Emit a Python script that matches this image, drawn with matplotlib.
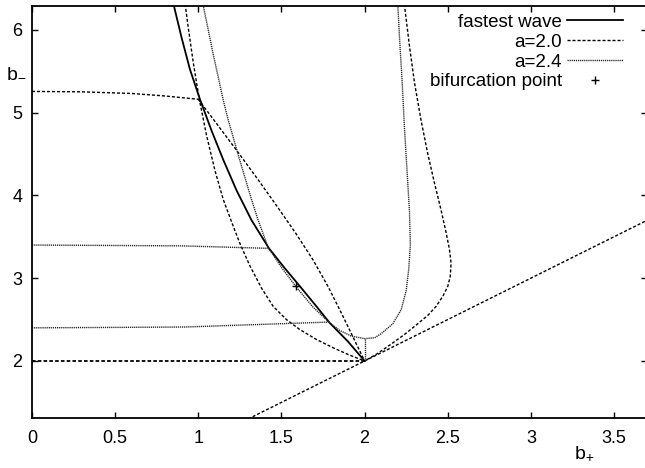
import numpy as np
import matplotlib
matplotlib.use('Agg')
import matplotlib.pyplot as plt

plt.rcParams['font.family'] = ['Liberation Sans', 'DejaVu Sans']
plt.rcParams['mathtext.default'] = 'regular'

# fastest wave (solid)
fastest_x = [0.84, 0.90, 0.95, 1.01, 1.08, 1.15, 1.23, 1.32, 1.425, 1.52, 1.62, 1.71, 1.79, 1.90, 2.0]
fastest_y = [6.40, 5.90, 5.52, 5.16, 4.78, 4.43, 4.06, 3.70, 3.36, 3.12, 2.88, 2.66, 2.46, 2.235, 2.0]

# a=2.0 curves
a20_horiz_x = [0.0, 0.3, 0.6, 0.8, 1.0]
a20_horiz_y = [5.255, 5.25, 5.23, 5.20, 5.16]
a20_lens_x = [1.0, 1.12, 1.25, 1.37, 1.49, 1.59, 1.69, 1.78, 1.86, 1.93, 2.0]
a20_lens_y = [5.16, 4.84, 4.49, 4.16, 3.82, 3.53, 3.22, 2.90, 2.58, 2.29, 2.0]
a20_left_x = [0.915, 0.94, 0.97, 1.006, 1.05, 1.10, 1.15, 1.20, 1.25, 1.31, 1.38, 1.45, 1.53, 1.61, 1.71, 1.81, 1.91, 2.0]
a20_left_y = [6.40, 6.02, 5.60, 5.16, 4.72, 4.30, 3.95, 3.68, 3.42, 3.15, 2.88, 2.66, 2.50, 2.38, 2.26, 2.16, 2.07, 2.0]
a20_right_x = [2.23, 2.24, 2.27, 2.30, 2.34, 2.38, 2.42, 2.46, 2.49, 2.51, 2.52, 2.515, 2.50,
               2.47, 2.43, 2.38, 2.32, 2.24, 2.15, 2.07, 2.0]
a20_right_y = [6.40, 6.29, 5.80, 5.36, 4.90, 4.50, 4.15, 3.82, 3.55, 3.35, 3.18, 3.02, 2.90,
               2.78, 2.66, 2.55, 2.45, 2.32, 2.19, 2.08, 2.0]
base_x = [0.0, 2.0]
base_y = [2.0, 2.0]
diag_x = [1.3, 3.7]
diag_y = [1.3, 3.7]

# a=2.4 curves
a24_curve_x = [1.02, 1.03, 1.09, 1.15, 1.18, 1.25, 1.32, 1.36, 1.42, 1.50, 1.59, 1.69, 1.79,
               1.85, 1.92, 2.0, 2.06, 2.10, 2.17, 2.22, 2.25, 2.265, 2.275, 2.27, 2.255,
               2.24, 2.225, 2.21, 2.20, 2.195]
a24_curve_y = [6.40, 6.29, 5.70, 5.15, 4.91, 4.42, 3.95, 3.70, 3.37, 3.13, 2.89, 2.65, 2.46,
               2.37, 2.30, 2.27, 2.28, 2.33, 2.45, 2.62, 2.85, 3.10, 3.40, 3.80, 4.30,
               4.80, 5.40, 5.90, 6.29, 6.40]
a24_h1_x = [0.0, 0.9, 1.42]
a24_h1_y = [3.40, 3.39, 3.36]
a24_h2_x = [0.0, 0.92, 1.79]
a24_h2_y = [2.40, 2.41, 2.47]
a24_vert_x = [2.0, 2.0]
a24_vert_y = [2.27, 2.0]

bif_x = [1.59]
bif_y = [2.90]

xticks = [0, 0.5, 1, 1.5, 2, 2.5, 3, 3.5]
xticklabels = ['0', '0.5', '1', '1.5', '2', '2.5', '3', '3.5']
yticks = [2, 3, 4, 5, 6]

fig = plt.figure(figsize=(6.45, 4.68), dpi=100)
ax = fig.add_axes([0.0496, 0.1075, 0.954, 0.8803])

d20 = dict(color='black', lw=1.0, dashes=(2.2, 1.4))
d24 = dict(color='#262626', lw=1.0, dashes=(0.9, 0.6))

ax.plot(fastest_x, fastest_y, color='black', lw=1.3, label='fastest wave')
ax.plot(a20_horiz_x, a20_horiz_y, label='a=2.0', **d20)
ax.plot(a20_lens_x, a20_lens_y, **d20)
ax.plot(a20_left_x, a20_left_y, **d20)
ax.plot(a20_right_x, a20_right_y, **d20)
ax.plot(base_x, base_y, color='black', lw=1.3, dashes=(2.0, 1.2))
ax.plot(diag_x, diag_y, **d20)
ax.plot(a24_h1_x, a24_h1_y, label='a=2.4', **d24)
ax.plot(a24_h2_x, a24_h2_y, **d24)
ax.plot(a24_curve_x, a24_curve_y, **d24)
ax.plot(a24_vert_x, a24_vert_y, **d24)
ax.plot(bif_x, bif_y, '+', color='black', ms=6, mew=1.0, label='bifurcation point')

ax.set_xlim(0, 3.7)
ax.set_ylim(1.315, 6.29)
ax.set_xticks(xticks)
ax.set_xticklabels(xticklabels)
ax.set_yticks(yticks)
ax.tick_params(direction='in', top=True, right=True, length=4.5, width=1.0, labelsize=13)
ax.tick_params(axis='x', pad=9)
ax.tick_params(axis='y', pad=7)
for s in ax.spines.values():
    s.set_linewidth(1.3)

ax.text(-0.026, 0.839, '$b_{-}$', transform=ax.transAxes, fontsize=14, ha='center', va='center')
ax.text(0.897, -0.0985, '$b_{+}$', transform=ax.transAxes, fontsize=14, ha='center', va='baseline')

ax.legend(loc='upper right', bbox_to_anchor=(0.961, 0.981), frameon=False, markerfirst=False,
          fontsize=13.5, handlelength=3.0, handletextpad=0.27, labelspacing=0.15,
          borderpad=0, borderaxespad=0)

fig.savefig('out.png', dpi=100)
